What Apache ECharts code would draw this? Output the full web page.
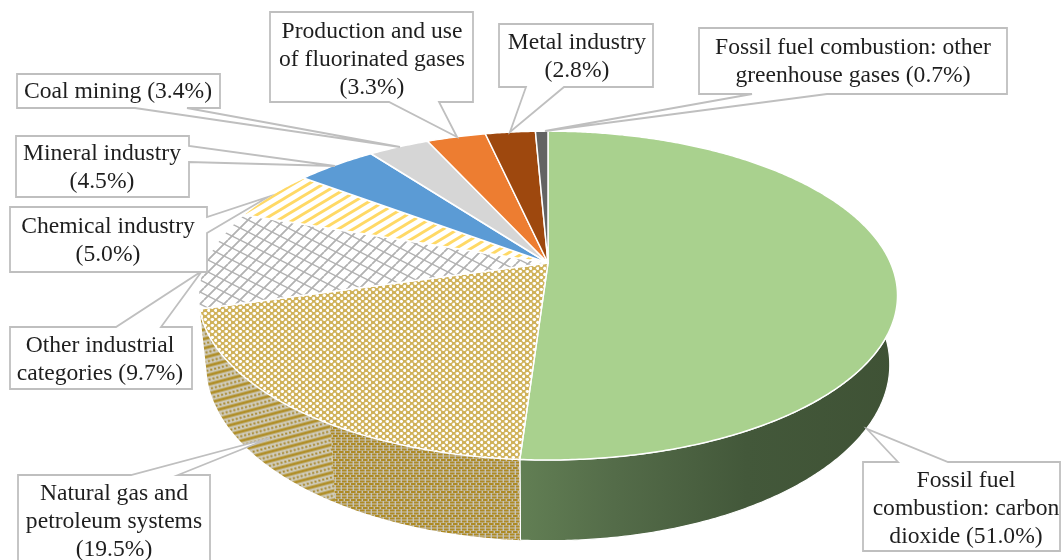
<!DOCTYPE html>
<html>
<head>
<meta charset="utf-8">
<style>html,body{margin:0;padding:0;background:#fff}#chart{width:1061px;height:560px}</style>
<script src="https://cdn.jsdelivr.net/npm/echarts@6/dist/echarts.min.js"></script>
</head>
<body>
<div id="chart"></div>
<script>
// ---- data, clockwise from the top of the pie ----
var categories = [
  'Fossil fuel\ncombustion: carbon\ndioxide ',
  'Natural gas and\npetroleum systems\n',
  'Other industrial\ncategories ',
  'Chemical industry\n',
  'Mineral industry\n',
  'Coal mining ',
  'Production and use\nof fluorinated gases\n',
  'Metal industry\n',
  'Fossil fuel combustion: other\ngreenhouse gases '
];
var shares = [51.0, 19.5, 9.7, 5.0, 4.5, 3.4, 3.3, 2.8, 0.7];
var sliceColors = ['#A9D18E', 'gasTop', 'lattice', 'stripes', '#5B9BD5', '#D6D6D6', '#ED7D31', '#9E480E', '#636363'];

// ---- layout of the callouts (annotation geometry, not data) ----
var calloutLayout = [
  {box:[863,462,1060,551], side:'top',    a:898, b:948, tip:[867,429], text:[966,509]},
  {box:[18,475,210,562],   side:'top',    a:131, b:178, tip:[270,438], text:[114,522]},
  {box:[10,327,192,389],   side:'top',    a:116, b:161, tip:[202,271], text:[100,359.5]},
  {box:[10,207,207,272],   side:'right',  a:217, b:233, tip:[268,197], text:[108,241]},
  {box:[16,136,189,197],   side:'right',  a:146, b:162, tip:[335,166], text:[102,168]},
  {box:[17,74,220,108],    side:'bottom', a:135, b:187, tip:[400,147], text:[118,92]},
  {box:[270,12,473,102],   side:'bottom', a:389, b:439, tip:[457,137], text:[372,59.5]},
  {box:[499,24,653,87],    side:'bottom', a:526, b:564, tip:[510,132], text:[577,57]},
  {box:[699,28,1007,94],   side:'bottom', a:752, b:827, tip:[545,131], text:[853,62]}
];

// ---- perspective projection of the pie disc ----
var CX = 548, K = 0.198;
var TOP = {cy:263, a:342.6, b:158};
var BOTTOM = {cy:330, a:335, b:169};
function project(plane, turn) {
  var t = turn * Math.PI * 2, u = Math.sin(t), v = Math.cos(t), d = 1 + K * v;
  return [CX + plane.a * u / d, plane.cy - plane.b * v / d];
}
function arc(plane, from, to) {
  var pts = [], n = Math.max(2, Math.ceil((to - from) * 720));
  for (var i = 0; i <= n; i++) pts.push(project(plane, from + (to - from) * i / n));
  return pts;
}

// ---- fill patterns ----
function tile(w, h, draw) {
  var c = document.createElement('canvas');
  c.width = w; c.height = h;
  draw(c.getContext('2d'), w, h);
  return {image: c, repeat: 'repeat'};
}
function seg(g, x0, y0, x1, y1) { g.beginPath(); g.moveTo(x0, y0); g.lineTo(x1, y1); g.stroke(); }
var patterns = {
  stripes: tile(15, 9, function (g, w, h) {
    g.fillStyle = '#fff'; g.fillRect(0, 0, w, h);
    g.strokeStyle = '#FFD966'; g.lineWidth = 2.8;
    for (var i = -1; i <= 1; i++) seg(g, -w + i * w, 2 * h, 2 * w + i * w, -h);
  }),
  lattice: tile(24, 12, function (g, w, h) {
    g.fillStyle = '#fff'; g.fillRect(0, 0, w, h);
    g.strokeStyle = '#B2B2B2'; g.lineWidth = 1.4;
    for (var i = -1; i <= 1; i++) {
      seg(g, 0, i * h, w, (i + 1) * h);
      seg(g, i * w / 2 + 0, h, i * w / 2 + w / 2, 0);
      seg(g, i * w / 2 + w / 2, h, i * w / 2 + w, 0);
    }
  }),
  gasTop: tile(7, 6, function (g, w, h) {
    g.fillStyle = '#D0B25A'; g.fillRect(0, 0, w, h);
    g.fillStyle = '#fff';
    [[0.6, 1.2], [4.1, 4.2]].forEach(function (p) {
      g.fillRect(p[0], p[1] - 0.7, 3.4, 1.8);
      g.fillRect(p[0] + 0.8, p[1] - 1.4, 1.8, 3.2);
    });
  }),
  gasFront: tile(12, 8, function (g, w, h) {
    g.fillStyle = '#C6C3B8'; g.fillRect(0, 0, w, h);
    g.fillStyle = '#AD8A24';
    [[0, 0.5], [6, 0.5], [3, 3], [9, 3], [0, 5.5], [6, 5.5]].forEach(function (p) { g.fillRect(p[0], p[1], 4.6, 2); });
    g.fillRect(-3, 3, 4.6, 2);
  }),
  gasSide: {
    image: tile(12, 9, function (g, w, h) {
      g.fillStyle = '#D0CCBD'; g.fillRect(0, 0, w, h);
      g.fillStyle = '#B08F2A'; g.fillRect(0, 0.5, w, 3);
      g.fillStyle = '#A98A30';
      for (var x = 0; x < w; x += 4) { g.fillRect(x, 5.6, 2.2, 2); }
    }).image,
    repeat: 'repeat', rotation: -0.26
  }
};
function fillOf(key) { return patterns[key] || key; }
var greenWall = {type: 'linear', x: 0, y: 0, x2: 1, y2: 0, colorStops: [
  {offset: 0, color: '#627F54'}, {offset: 0.25, color: '#546C49'},
  {offset: 0.6, color: '#43583A'}, {offset: 1, color: '#3F5235'}
]};
function poly(points, fill, width) {
  return {type: 'polygon', shape: {points: points},
    style: {fill: fill, stroke: '#fff', lineWidth: width, lineJoin: 'round'}};
}
function wall(from, to, fill, width) {
  return poly(arc(TOP, from, to).concat(arc(BOTTOM, from, to).reverse()), fill, width);
}

// ---- slices: start and end come only from the shares ----
var total = shares.reduce(function (s, v) { return s + v; }, 0);
function renderSlice(params, api) {
  var i = params.dataIndex, start = 0;
  for (var j = 0; j < i; j++) start += shares[j];
  var from = start / total, to = (start + api.value(0)) / total;
  var kids = [];
  if (i === 0) {
    kids.push(wall(Math.max(from, 0.25), to, greenWall, 1.2));
  } else if (i === 1) {
    var mid = from + (to - from) * 0.4;
    kids.push(wall(mid, to, patterns.gasSide, 0));
    kids.push(wall(from, mid, patterns.gasFront, 0));
    kids.push({type: 'polyline', shape: {points: [project(TOP, from), project(BOTTOM, from)]},
      style: {fill: null, stroke: '#fff', lineWidth: 1.2}});
  }
  kids.push(poly([[CX, TOP.cy]].concat(arc(TOP, from, to)), fillOf(sliceColors[i]), 1.5));
  return {type: 'group', children: kids};
}
function calloutOutline(c) {
  var b = c.box, x0 = b[0], y0 = b[1], x1 = b[2], y1 = b[3];
  if (c.side === 'top') return [[x0,y0],[c.a,y0],c.tip,[c.b,y0],[x1,y0],[x1,y1],[x0,y1]];
  if (c.side === 'right') return [[x0,y0],[x1,y0],[x1,c.a],c.tip,[x1,c.b],[x1,y1],[x0,y1]];
  return [[x0,y0],[x1,y0],[x1,y1],[c.b,y1],c.tip,[c.a,y1],[x0,y1]];
}
function renderCallout(params, api) {
  var i = params.dataIndex, c = calloutLayout[i];
  return {type: 'group', children: [
    {type: 'polygon', shape: {points: calloutOutline(c)},
      style: {fill: '#fff', stroke: '#BFBFBF', lineWidth: 1.8, lineJoin: 'miter'}},
    {type: 'text', style: {
      x: c.text[0], y: c.text[1],
      text: categories[i] + '(' + api.value(0).toFixed(1) + '%)',
      align: 'center', verticalAlign: 'middle',
      fontFamily: '"Liberation Serif"', fontSize: 23.6, lineHeight: 27.8, fill: '#1E1E1E'
    }}
  ]};
}
var rows = shares.map(function (v) { return [v]; });
var chart = echarts.init(document.getElementById('chart'), null, {renderer: 'canvas'});
chart.setOption({
  animation: false,
  backgroundColor: '#fff',
  series: [
    {type: 'custom', coordinateSystem: 'none', data: rows, renderItem: renderSlice, silent: true, z: 2},
    {type: 'custom', coordinateSystem: 'none', data: rows, renderItem: renderCallout, silent: true, z: 3}
  ]
});
</script>
</body>
</html>
